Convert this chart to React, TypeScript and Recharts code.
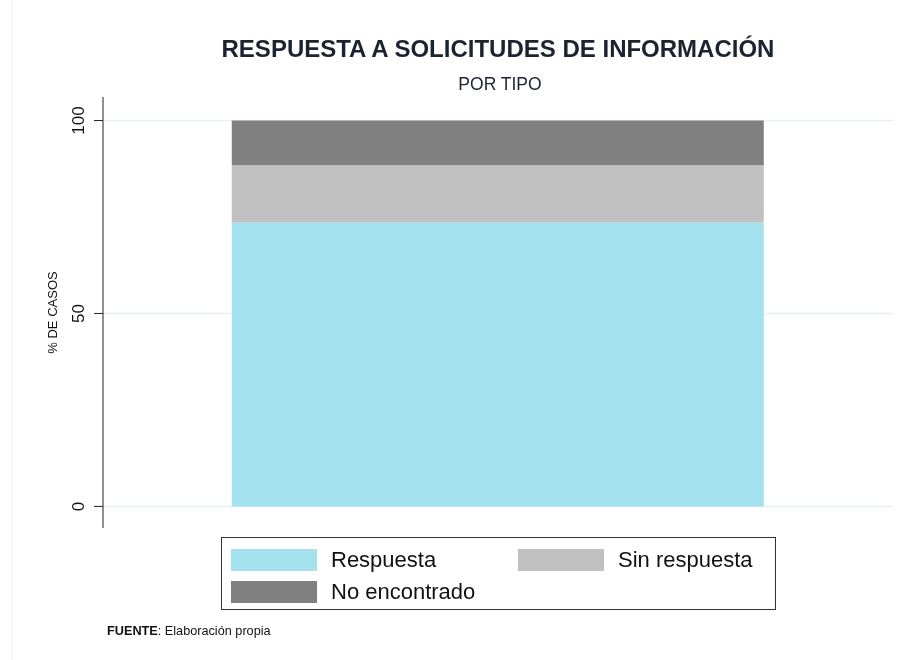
import { BarChart, Bar, YAxis, XAxis, CartesianGrid } from "recharts";

const categories = ["Solicitudes"];
const respuesta = [73.6];
const sinRespuesta = [14.8];
const noEncontrado = [11.6];
const seriesNames = ["Respuesta", "Sin respuesta", "No encontrado"];
const seriesColors = ["#a3e2ee", "#c0c0c0", "#808080"];
const yTicks = [0, 50, 100];

const data = categories.map((name, i) => ({
  name,
  respuesta: respuesta[i],
  sinRespuesta: sinRespuesta[i],
  noEncontrado: noEncontrado[i],
}));

const FONT = '"Liberation Sans", Arial, Helvetica, sans-serif';

function VerticalTick({ x, y, payload }: any) {
  return (
    <text
      x={x - 8}
      y={y}
      transform={`rotate(-90, ${x - 8}, ${y})`}
      textAnchor="middle"
      fontSize={17}
      fill="#111"
      fontFamily={FONT}
    >
      {payload.value}
    </text>
  );
}

function LegendBox() {
  const item = (i: number) => (
    <div style={{ display: "flex", alignItems: "center" }}>
      <div style={{ width: 86, height: 22, background: seriesColors[i], marginRight: 14 }} />
      <span style={{ fontSize: 22, color: "#111" }}>{seriesNames[i]}</span>
    </div>
  );
  return (
    <div
      style={{
        position: "absolute",
        left: 221,
        top: 537,
        width: 553,
        height: 71,
        border: "1.5px solid #333",
        fontFamily: FONT,
      }}
    >
      <div style={{ position: "absolute", left: 9, top: 9 }}>{item(0)}</div>
      <div style={{ position: "absolute", left: 296, top: 9 }}>{item(1)}</div>
      <div style={{ position: "absolute", left: 9, top: 41 }}>{item(2)}</div>
    </div>
  );
}

export default function App() {
  return (
    <div style={{ position: "fixed", left: 0, top: 0, width: 902, height: 660, background: "#fff", fontFamily: FONT }}>
      <div style={{ position: "absolute", left: 12, top: 0, width: 1, height: 660, background: "#eef5f7" }} />
      <div
        style={{
          position: "absolute",
          left: 0,
          width: 996,
          top: 35,
          textAlign: "center",
          fontSize: 24,
          fontWeight: "bold",
          color: "#1c2330",
        }}
      >
        RESPUESTA A SOLICITUDES DE INFORMACIÓN
      </div>
      <div
        style={{
          position: "absolute",
          left: 0,
          width: 1000,
          top: 74,
          textAlign: "center",
          fontSize: 17.5,
          color: "#1c2330",
        }}
      >
        POR TIPO
      </div>
      <BarChart
        width={902}
        height={660}
        data={data}
        margin={{ top: 97, right: 9, bottom: 132, left: 0 }}
        barCategoryGap="16.3%"
        style={{ position: "absolute", left: 0, top: 0 }}
      >
        <CartesianGrid vertical={false} horizontalValues={yTicks} stroke="#e6eff2" strokeWidth={1.5} />
        <XAxis dataKey="name" hide />
        <YAxis
          width={103}
          domain={[-5.6, 106.1]}
          ticks={yTicks}
          interval={0}
          allowDataOverflow
          stroke="#222"
          tickSize={9}
          tickLine={{ stroke: "#222" }}
          tick={<VerticalTick />}
          label={{
            value: "% DE CASOS",
            angle: -90,
            position: "insideLeft",
            offset: 52,
            style: { fontSize: 13, fill: "#111", fontFamily: FONT, textAnchor: "middle" },
          }}
        />
        <Bar dataKey="respuesta" stackId="a" fill={seriesColors[0]} isAnimationActive={false} />
        <Bar dataKey="sinRespuesta" stackId="a" fill={seriesColors[1]} isAnimationActive={false} />
        <Bar dataKey="noEncontrado" stackId="a" fill={seriesColors[2]} isAnimationActive={false} />
      </BarChart>
      <LegendBox />
      <div style={{ position: "absolute", left: 107, top: 624, fontSize: 12.7, color: "#111" }}>
        <b>FUENTE</b>: Elaboración propia
      </div>
    </div>
  );
}
